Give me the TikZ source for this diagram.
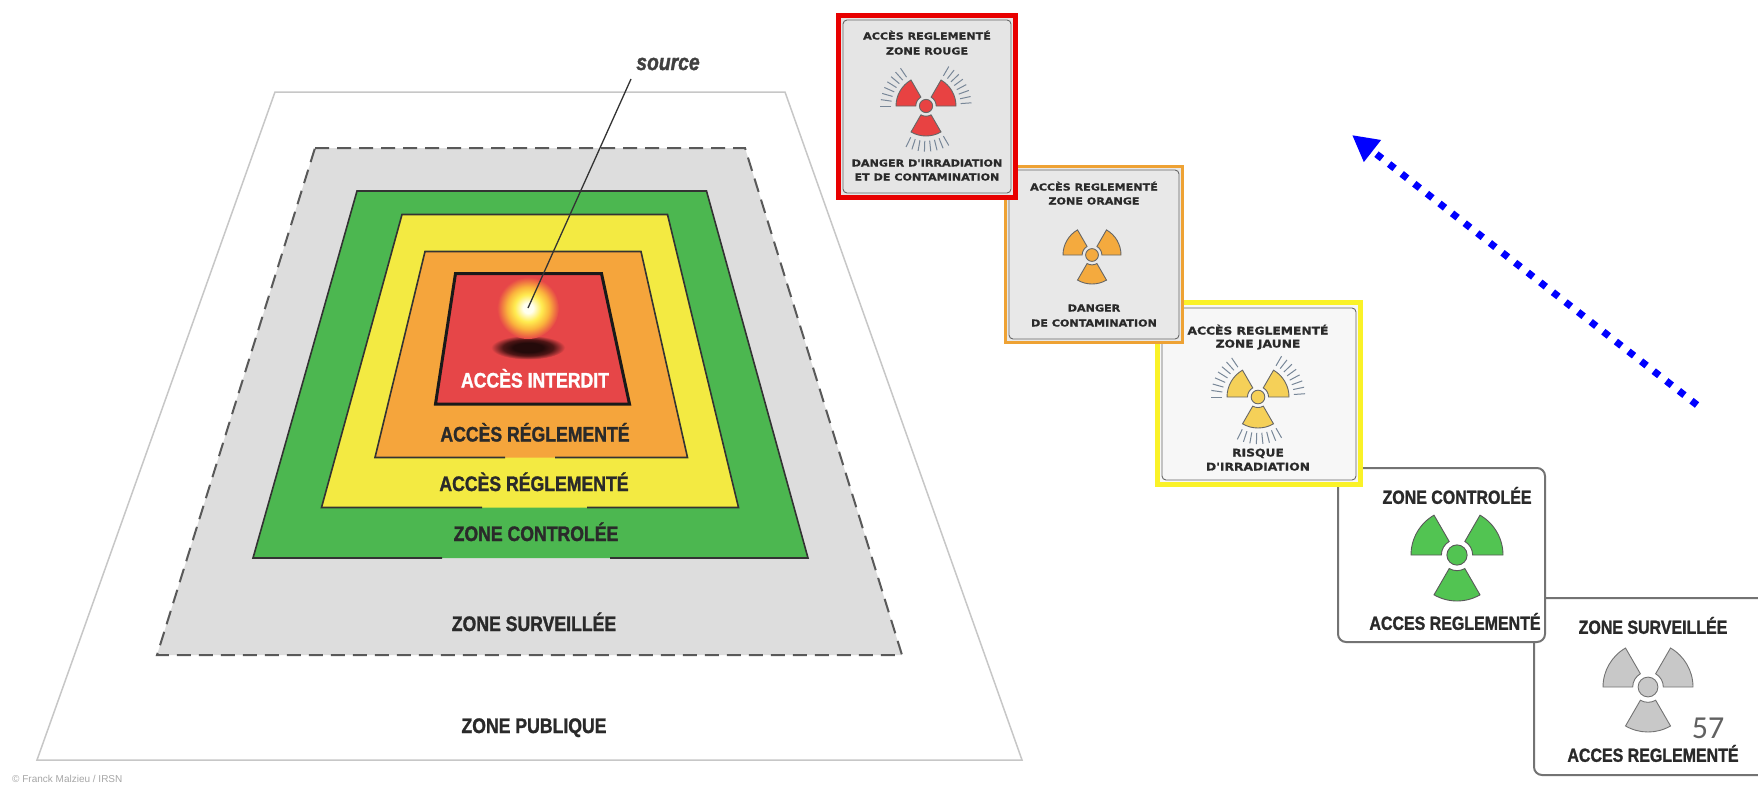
\documentclass[tikz,border=0pt]{standalone}
\usepackage{fontspec}
\setmainfont{Liberation Sans}
\newfontfamily\zonefont[FakeStretch=0.84, FakeBold=1.3]{Liberation Sans}
\newfontfamily\signfont[FakeStretch=1.16, FakeBold=0.8]{DejaVu Sans}
\newfontfamily\pagefont{Carlito}
\usetikzlibrary{arrows.meta}

% zone colours
\definecolor{redzone}{RGB}{230,70,72}
\definecolor{orangezone}{RGB}{245,165,60}
\definecolor{yellowzone}{RGB}{243,234,66}
\definecolor{greenzone}{RGB}{76,183,80}
\definecolor{grayzone}{RGB}{221,221,221}
\definecolor{inkgray}{RGB}{42,42,42}
% sign colours
\definecolor{raycol}{RGB}{120,135,152}
\definecolor{signred}{RGB}{232,0,0}
\definecolor{signorange}{RGB}{238,162,52}
\definecolor{signyellow}{RGB}{250,242,40}
\definecolor{trefred}{RGB}{232,66,66}
\definecolor{treforange}{RGB}{244,170,62}
\definecolor{trefyellow}{RGB}{245,208,88}
\definecolor{trefgreen}{RGB}{82,196,82}
\definecolor{trefgray}{RGB}{200,200,200}
% glow of the source
\definecolor{glowa}{RGB}{255,255,240}
\definecolor{glowb}{RGB}{255,236,80}
\definecolor{glowc}{RGB}{250,180,60}
\definecolor{glowd}{RGB}{238,110,66}
\definecolor{shada}{RGB}{36,10,10}
\definecolor{shadb}{RGB}{80,22,22}
\definecolor{shadc}{RGB}{170,52,54}

% the path fills the inner 25bp of a radial shading
\pgfdeclareradialshading{glow}{\pgfpoint{0bp}{0bp}}{color(0bp)=(glowa); color(4bp)=(glowa); color(11bp)=(glowb); color(17bp)=(glowc); color(22bp)=(glowd); color(25bp)=(redzone); color(50bp)=(redzone)}
\pgfdeclareradialshading{shadowblob}{\pgfpoint{0bp}{0bp}}{color(0bp)=(shada); color(10bp)=(shada); color(17bp)=(shadb); color(22bp)=(shadc); color(25bp)=(redzone); color(50bp)=(redzone)}

% trefoil: centre, outer radius, fill, outline
\newcommand\trefoil[4]{%
  \begin{scope}[shift={#1}]
    \foreach \a in {90,210,330}
      \filldraw[fill=#3, draw=#4, line width=0.9pt]
        (\a-30:0.34*#2) -- (\a-30:#2) arc[start angle=\a-30, end angle=\a+30, radius=#2]
        -- (\a+30:0.34*#2) arc[start angle=\a+30, end angle=\a-30, radius=0.34*#2] -- cycle;
    \filldraw[fill=#3, draw=#4, line width=0.9pt] (0,0) circle[radius=0.22*#2];
  \end{scope}}
% short strokes round the blades
\newcommand\trefoilrays[2]{%
  \begin{scope}[shift={#1}]
    \foreach \a in {90,210,330}
      \foreach \d in {-30,-22,...,30}
        \draw[raycol, line width=1pt] (\a+\d:1.16*#2) -- (\a+\d:1.52*#2);
  \end{scope}}

\tikzset{
  zonelabel/.style={font=\zonefont\bfseries\fontsize{21}{21}\selectfont, text=inkgray,
    inner sep=0pt, text height=15pt, text depth=0pt},
  signbig/.style={font=\zonefont\bfseries\fontsize{19}{19}\selectfont, text=inkgray,
    inner sep=0pt, text height=13.6pt, text depth=0pt},
  signsmall/.style={font=\signfont\bfseries\fontsize{9.6}{9.6}\selectfont, text=inkgray,
    inner sep=0pt, text height=7pt, text depth=0pt},
  signjaune/.style={signsmall, font=\signfont\bfseries\fontsize{10.6}{10.6}\selectfont},
  zoneedge/.style={draw=black!80, line width=1.6pt},
  signedge/.style={draw=black!60, line width=0.9pt, rounded corners=4pt},
  bigsign/.style={fill=white, draw=black!55, line width=2pt, rounded corners=8pt},
}

\begin{document}
\begin{tikzpicture}[x=1pt, y=-1pt]
\useasboundingbox (0,0) rectangle (1758,787);
\clip (0,0) rectangle (1758,787);
\fill[white] (0,0) rectangle (1758,787);

% --- nested zones ---
\filldraw[fill=white, draw=black!22, line width=1.5pt]
  (275,92) -- (785,92) -- (1022,760) -- (37,760) -- cycle;
\filldraw[fill=grayzone, draw=black!65, line width=2pt, dash pattern=on 14pt off 8pt]
  (315,148) -- (745,148) -- (902,655) -- (157,655) -- cycle;

\fill[greenzone] (357,191) -- (706.5,191) -- (808,558) -- (253,558) -- cycle;
\draw[zoneedge] (610,558) -- (808,558) -- (706.5,191) -- (357,191) -- (253,558) -- (442,558);

\fill[yellowzone] (402,214.5) -- (667.5,214.5) -- (738.5,507.5) -- (321.5,507.5) -- cycle;
\draw[zoneedge] (587,507.5) -- (738.5,507.5) -- (667.5,214.5) -- (402,214.5) -- (321.5,507.5) -- (482,507.5);

\fill[orangezone] (425,251.5) -- (641,251.5) -- (687.5,457.5) -- (375,457.5) -- cycle;
\draw[zoneedge] (555,457.5) -- (687.5,457.5) -- (641,251.5) -- (425,251.5) -- (375,457.5) -- (505,457.5);

\filldraw[fill=redzone, draw=black!90, line width=3pt]
  (455.5,273.5) -- (601.5,273.5) -- (629.5,404) -- (435.5,404) -- cycle;

% source and its shadow
\coordinate (glow) at (528,308);
\coordinate (shadow) at (528,347.5);
\shade[shading=shadowblob] (shadow) ellipse[x radius=37, y radius=12];
\shade[shading=glow] (glow) circle[radius=31];

\node[font=\zonefont\bfseries\itshape\fontsize{23}{23}\selectfont, text=black!75, inner sep=0pt]
  (source) at (668,64) {source};
\draw[black!80, line width=1.3pt] (631,79) -- (glow);

\node[zonelabel, text=white] (interdit) at (535,380) {ACCÈS INTERDIT};
\node[zonelabel] (orange) at (535,434) {ACCÈS RÉGLEMENTÉ};
\node[zonelabel] (jaune) at (534,483.5) {ACCÈS RÉGLEMENTÉ};
\node[zonelabel] (verte) at (536,533.5) {ZONE CONTROLÉE};
\node[zonelabel] (surveillee) at (534,623.5) {ZONE SURVEILLÉE};
\node[zonelabel] (publique) at (534,725.5) {ZONE PUBLIQUE};

\node[font=\fontsize{10}{10}\selectfont, text=black!35, anchor=west, inner sep=0pt]
  (credit) at (12,779) {© Franck Malzieu / IRSN};

% --- signs, lowest first ---
% zone surveillee
\path[bigsign] (1534,598) rectangle (1790,775);
\node[signbig] (gris-haut) at (1653,627) {ZONE SURVEILLÉE};
\trefoil{(1648,687)}{45}{trefgray}{black!55}
\node[font=\pagefont\fontsize{32}{32}\selectfont, text=black!62, inner sep=0pt] (page) at (1708,728) {57};
\node[signbig] (gris-bas) at (1653,755) {ACCES REGLEMENTÉ};

% zone controlee
\path[bigsign] (1338,468) rectangle (1545,642);
\node[signbig] (vert-haut) at (1457,497) {ZONE CONTROLÉE};
\trefoil{(1457,555)}{46}{trefgreen}{black!65}
\node[signbig] (vert-bas) at (1455,623) {ACCES REGLEMENTÉ};

% zone jaune
\fill[signyellow] (1155,300) rectangle (1363,487);
\fill[black!3] (1160,305) rectangle (1358,482);
\draw[signedge] (1162,308) rectangle (1356,480);
\node[signjaune] (jaune-1) at (1258,331) {ACCÈS REGLEMENTÉ};
\node[signjaune] (jaune-2) at (1258,344) {ZONE JAUNE};
\trefoilrays{(1258,397)}{31}
\trefoil{(1258,397)}{31}{trefyellow}{black!60}
\node[signjaune] (jaune-3) at (1258,453) {RISQUE};
\node[signjaune] (jaune-4) at (1258,467) {D'IRRADIATION};

% zone orange
\fill[signorange] (1004,165) rectangle (1184,344);
\fill[black!9] (1007,168) rectangle (1181,341);
\draw[signedge] (1009,170) rectangle (1179,339);
\node[signsmall] (orange-1) at (1094,187) {ACCÈS REGLEMENTÉ};
\node[signsmall] (orange-2) at (1094,201) {ZONE ORANGE};
\trefoil{(1092,255)}{29}{treforange}{black!60}
\node[signsmall] (orange-3) at (1094,308) {DANGER};
\node[signsmall] (orange-4) at (1094,323) {DE CONTAMINATION};

% zone rouge
\fill[signred] (836,13) rectangle (1018,200);
\fill[black!10] (841,18) rectangle (1013,195);
\draw[signedge] (843,20) rectangle (1011,193);
\node[signsmall] (rouge-1) at (927,36) {ACCÈS REGLEMENTÉ};
\node[signsmall] (rouge-2) at (927,51) {ZONE ROUGE};
\trefoilrays{(926,106)}{30}
\trefoil{(926,106)}{30}{trefred}{black!60}
\node[signsmall] (rouge-3) at (927,163) {DANGER D'IRRADIATION};
\node[signsmall] (rouge-4) at (927,177) {ET DE CONTAMINATION};

% dotted arrow up the stack of signs
\coordinate (arrow-from) at (1697,405);
\coordinate (arrow-to) at (1352,135);
\draw[blue, line width=7pt, dash pattern=on 7pt off 9pt, -{Triangle[length=26pt, width=26pt]}]
  (arrow-from) -- (arrow-to);
\end{tikzpicture}
\end{document}
